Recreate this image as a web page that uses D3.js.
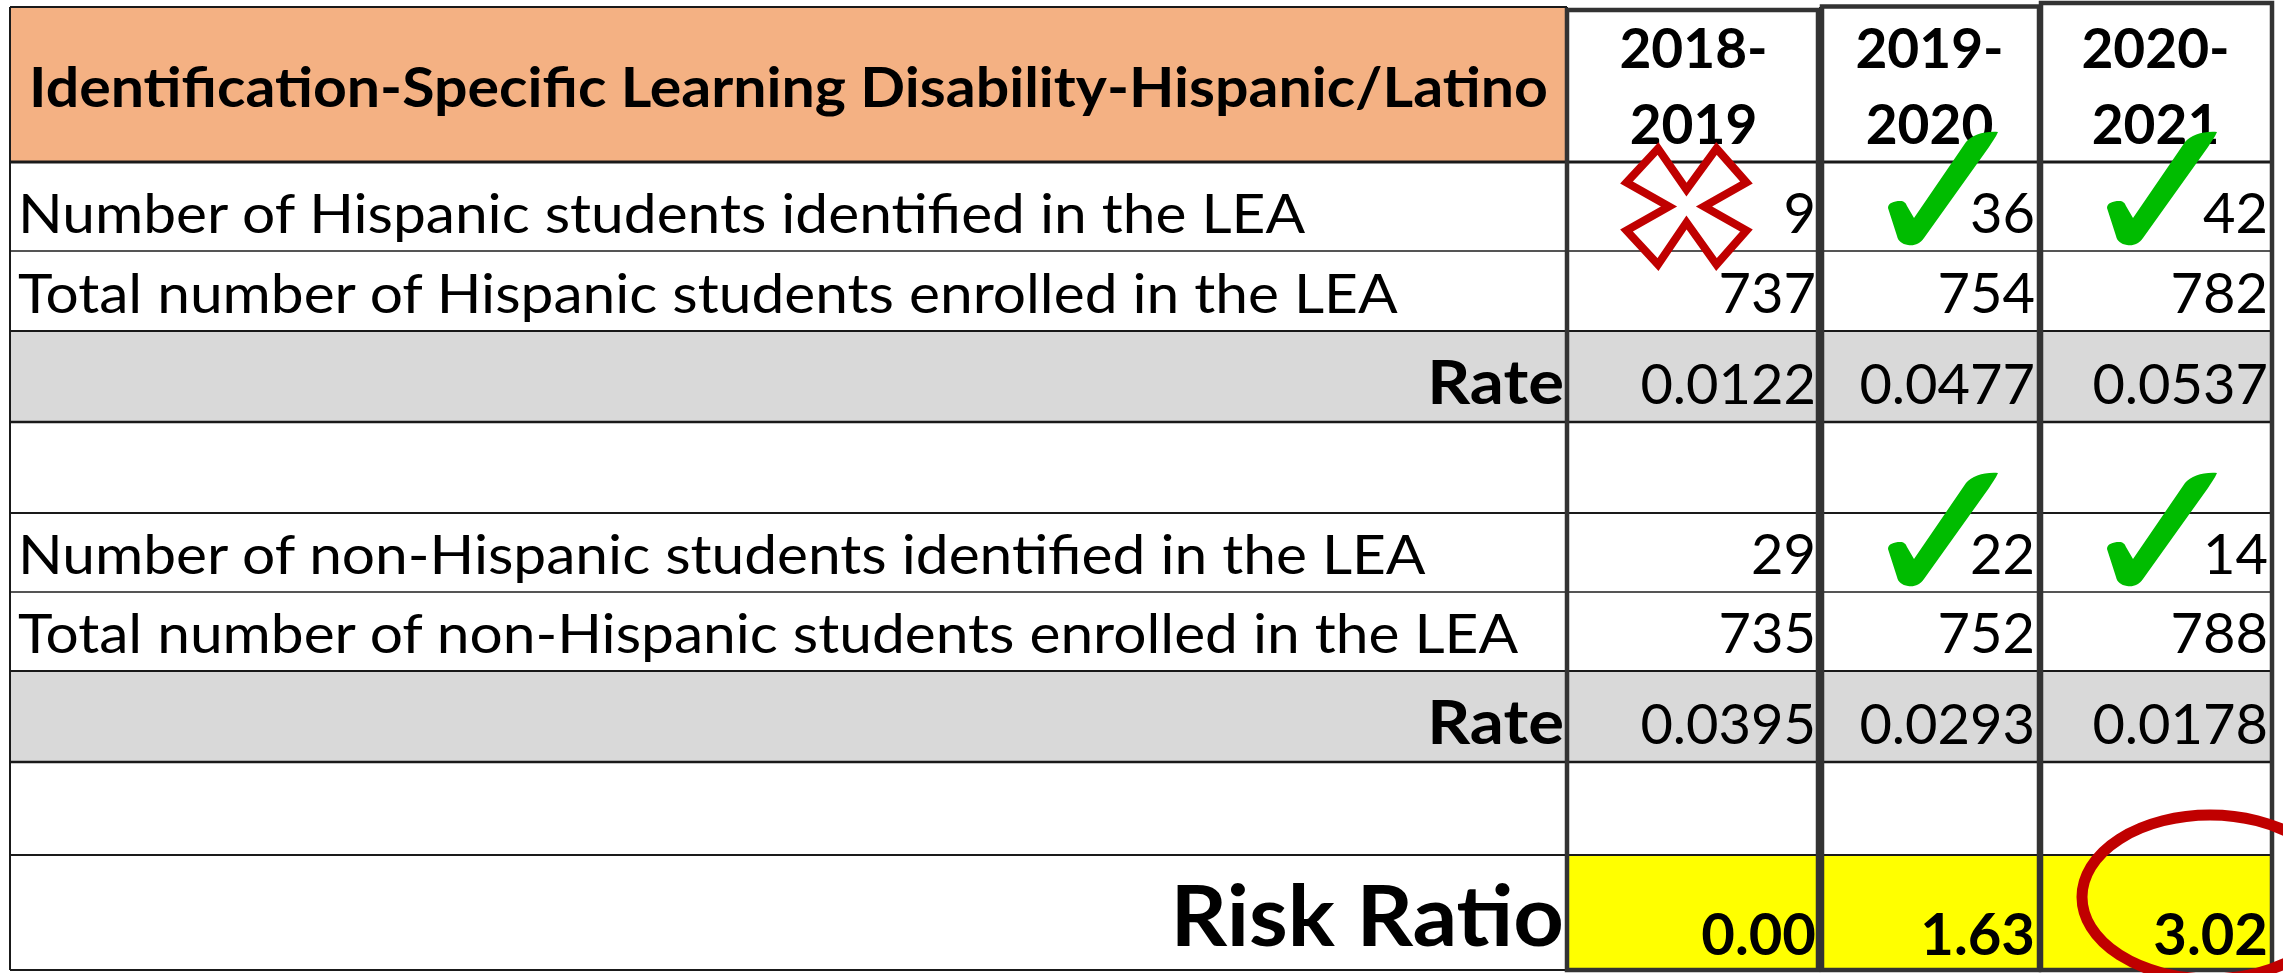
<!DOCTYPE html>
<html>
<head>
<meta charset="utf-8">
<script src="https://cdn.jsdelivr.net/npm/d3@7"></script>
<style>
  body { margin: 0; background: #fff; }
  svg { display: block; font-family: Lato, "Open Sans", sans-serif; }
</style>
</head>
<body>
<svg id="chart"></svg>
<script>
// Данные таблицы
const title = "Identification-Specific Learning Disability-Hispanic/Latino";
const years = ["2018-2019", "2019-2020", "2020-2021"];
const rowLabels = [
  "Number of Hispanic students identified in the LEA",
  "Total number of Hispanic students enrolled in the LEA",
  "Rate",
  "",
  "Number of non-Hispanic students identified in the LEA",
  "Total number of non-Hispanic students enrolled in the LEA",
  "Rate",
  "",
  "Risk Ratio"
];
const hispIdentified = [9, 36, 42];
const hispEnrolled = [737, 754, 782];
const hispRate = [0.0122, 0.0477, 0.0537];
const nonHispIdentified = [29, 22, 14];
const nonHispEnrolled = [735, 752, 788];
const nonHispRate = [0.0395, 0.0293, 0.0178];
const riskRatio = [0.00, 1.63, 3.02];

// пометки: [индекс года, индекс строки]
const checkMarks = [[1, 0], [2, 0], [1, 4], [2, 4]];
const crossMarks = [[0, 0]];
const circleMarks = [[2, 8]];

// Размеры
const width = 2283;
const height = 973;
const tableLeft = 10;
const tableTop = 7;
const headerBottom = 162;
const tableBottom = 970;
const labelRight = 1567;
const tableRight = 2272;

const rowHeights = [89, 80, 91, 91, 79, 79, 91, 93, 115];
const colWidths = [253, 219, 233];

const rowValues = [hispIdentified, hispEnrolled, hispRate, null,
  nonHispIdentified, nonHispEnrolled, nonHispRate, null, riskRatio];
const rowFormat = [d3.format("d"), d3.format("d"), d3.format(".4f"), null,
  d3.format("d"), d3.format("d"), d3.format(".4f"), null, d3.format(".2f")];
const rowKind = ["plain", "plain", "rate", "blank", "plain", "plain", "rate", "blank", "risk"];

const svg = d3.select("#chart")
  .attr("width", width)
  .attr("height", height);

// растянуть текст под ширину шрифта Calibri
function widen(sel, k) {
  sel.each(function () {
    const w = this.getComputedTextLength();
    d3.select(this).attr("textLength", w * k).attr("lengthAdjust", "spacingAndGlyphs");
  });
}

// шкала y по строкам
const rowCum = [0, ...d3.cumsum(rowHeights)];
const yScale = d3.scaleLinear()
  .domain([0, d3.sum(rowHeights)])
  .range([headerBottom, tableBottom]);
const rowTop = i => yScale(rowCum[i]);
const rowBottom = i => yScale(rowCum[i + 1]);

// шкала x по колонкам годов
const colCum = [0, ...d3.cumsum(colWidths)];
const xScale = d3.scaleLinear()
  .domain([0, d3.sum(colWidths)])
  .range([labelRight, tableRight]);
const colLeft = j => xScale(colCum[j]);
const colRight = j => xScale(colCum[j + 1]);

// фон
svg.append("rect").attr("width", width).attr("height", height).attr("fill", "#fff");

// шапка
svg.append("rect")
  .attr("x", tableLeft).attr("y", tableTop)
  .attr("width", labelRight - tableLeft).attr("height", headerBottom - tableTop)
  .attr("fill", "#F4B183");

// серые строки
svg.selectAll("rect.gray")
  .data(rowKind.map((k, i) => ({ k, i })).filter(d => d.k === "rate"))
  .join("rect")
  .attr("class", "gray")
  .attr("x", tableLeft).attr("y", d => rowTop(d.i))
  .attr("width", tableRight - tableLeft).attr("height", d => rowBottom(d.i) - rowTop(d.i))
  .attr("fill", "#D9D9D9");

// жёлтые ячейки
const riskRow = rowKind.indexOf("risk");
svg.selectAll("rect.yellow")
  .data(years.map((y, j) => j))
  .join("rect")
  .attr("class", "yellow")
  .attr("x", j => colLeft(j)).attr("y", rowTop(riskRow))
  .attr("width", j => colRight(j) - colLeft(j)).attr("height", rowBottom(riskRow) - rowTop(riskRow))
  .attr("fill", "#FFFF00");

// сетка
const grid = svg.append("g").attr("stroke", "#1a1a1a");
grid.append("line").attr("x1", tableLeft).attr("x2", labelRight)
  .attr("y1", tableTop).attr("y2", tableTop).attr("stroke-width", 2);
grid.selectAll("line.h")
  .data(rowCum)
  .join("line")
  .attr("class", "h")
  .attr("x1", tableLeft).attr("x2", tableRight)
  .attr("y1", d => yScale(d)).attr("y2", d => yScale(d))
  .attr("stroke-width", (d, i) => i === 0 ? 3 : (rowKind[i - 1] === "rate" ? 2.5 : 1.8))
  .attr("stroke", (d, i) => (i === 1 || i === 5) ? "#555" : "#1a1a1a");
grid.selectAll("line.v")
  .data([tableLeft, ...colCum.map(c => xScale(c))])
  .join("line")
  .attr("class", "v")
  .attr("x1", d => d).attr("x2", d => d)
  .attr("y1", tableTop).attr("y2", tableBottom)
  .attr("stroke-width", 2);

// заголовок
svg.append("text")
  .attr("x", (tableLeft + labelRight) / 2).attr("y", 107)
  .attr("text-anchor", "middle")
  .attr("font-weight", "bold").attr("font-size", 56)
  .text(title)
  .call(widen, 1.054);

// годы
svg.selectAll("text.year")
  .data(years)
  .join("text")
  .attr("class", "year")
  .attr("text-anchor", "middle")
  .attr("font-weight", "bold").attr("font-size", 55)
  .each(function (d, j) {
    const parts = d.split("-");
    const cx = (colLeft(j) + colRight(j)) / 2;
    d3.select(this).append("tspan").attr("x", cx).attr("y", 68).text(parts[0] + "-");
    d3.select(this).append("tspan").attr("x", cx).attr("y", 144).text(parts[1]);
  });

// подписи строк
const labels = svg.selectAll("text.label")
  .data(rowLabels.map((t, i) => ({ t, i })).filter(d => d.t !== ""))
  .join("text")
  .attr("class", "label")
  .attr("x", d => rowKind[d.i] === "plain" ? 18 : labelRight - 3)
  .attr("y", d => rowBottom(d.i) - (rowKind[d.i] === "risk" ? 24 : 18))
  .attr("text-anchor", d => rowKind[d.i] === "plain" ? "start" : "end")
  .attr("font-weight", d => rowKind[d.i] === "plain" ? "normal" : "bold")
  .attr("font-size", d => rowKind[d.i] === "plain" ? 55 : (rowKind[d.i] === "rate" ? 61 : 84))
  .text(d => d.t);
labels.filter(d => rowKind[d.i] === "plain").call(widen, 1.066);
labels.filter(d => rowKind[d.i] === "rate").call(widen, 1.1);
labels.filter(d => rowKind[d.i] === "risk").call(widen, 1.05);

// значения
const cells = [];
rowValues.forEach((vals, i) => {
  if (!vals) return;
  vals.forEach((v, j) => cells.push({ i, j, text: rowFormat[i](v) }));
});
svg.selectAll("text.value")
  .data(cells)
  .join("text")
  .attr("class", "value")
  .attr("x", d => colRight(d.j) - 4)
  .attr("y", d => rowBottom(d.i) - (rowKind[d.i] === "risk" ? 15 : 18))
  .attr("text-anchor", "end")
  .attr("font-weight", d => rowKind[d.i] === "risk" ? "bold" : "normal")
  .attr("font-size", d => rowKind[d.i] === "risk" ? 58 : 56)
  .text(d => d.text);

// рамки колонок
svg.selectAll("rect.frame")
  .data(years.map((y, j) => j))
  .join("rect")
  .attr("class", "frame")
  .attr("x", j => colLeft(j) + (j === 0 ? 0 : 2))
  .attr("y", j => 10 - 3.5 * j)
  .attr("width", j => colRight(j) - colLeft(j) - 2)
  .attr("height", j => tableBottom - (10 - 3.5 * j))
  .attr("fill", "none")
  .attr("stroke", "#333")
  .attr("stroke-width", 4.5);

// галочки
const checkPath = "M0,76 C0,71 6,69 12,69 C16,69 18,71 19,74 L26,86 L78,10 C84,3 96,-1 110,0 C108,5 104,10 101,15 L36,106 C32,112 26,114 20,113 C14,112 10,109 9,104 Z";
svg.selectAll("path.check")
  .data(checkMarks)
  .join("path")
  .attr("class", "check")
  .attr("d", checkPath)
  .attr("transform", d => `translate(${colLeft(d[0]) + 68},${rowBottom(d[1]) - 119})`)
  .attr("fill", "#00BC00");

// крестик
const crossPts = [[-60, -24], [-28.5, -58], [0, -17], [30, -58], [60, -24], [17.5, 0],
  [60, 24], [30, 58], [0, 16], [-28.5, 58], [-60, 24], [-17.5, 0]];
svg.selectAll("polygon.cross")
  .data(crossMarks)
  .join("polygon")
  .attr("class", "cross")
  .attr("points", crossPts.map(p => p.join(",")).join(" "))
  .attr("transform", d => `translate(${(colLeft(d[0]) + colRight(d[0])) / 2 - 7},${(rowTop(d[1]) + rowBottom(d[1])) / 2})`)
  .attr("fill", "#fff")
  .attr("stroke", "#C00000")
  .attr("stroke-width", 8)
  .attr("stroke-linejoin", "miter");

// овал
svg.selectAll("ellipse.circle")
  .data(circleMarks)
  .join("ellipse")
  .attr("class", "circle")
  .attr("cx", d => colRight(d[0]) - 62)
  .attr("cy", d => rowTop(d[1]) + 42)
  .attr("rx", 128).attr("ry", 82)
  .attr("fill", "none")
  .attr("stroke", "#C00000")
  .attr("stroke-width", 11);
</script>
</body>
</html>
